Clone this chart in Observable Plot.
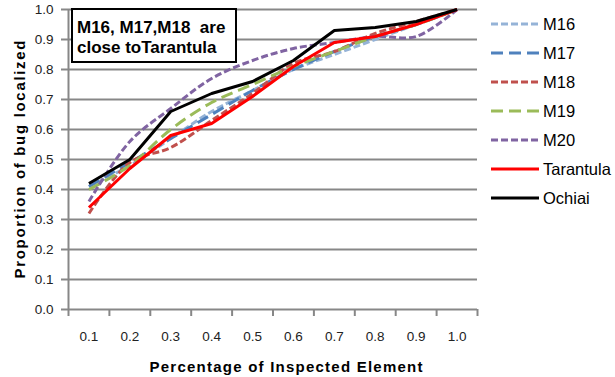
<!DOCTYPE html>
<html>
<head>
<meta charset="utf-8">
<script src="https://cdn.jsdelivr.net/npm/d3@7"></script>
<script src="https://cdn.jsdelivr.net/npm/@observablehq/plot@0.6"></script>
<style>
  body { margin: 0; background: #fff; }
  #wrap { position: relative; width: 615px; height: 377px; font-family: "Liberation Sans", Arial, sans-serif; }
  #note { position: absolute; left: 71px; top: 8px; width: 166px; height: 55px; box-sizing: border-box;
          border: 2px solid #000; background: #fff; font: bold 17px "Liberation Sans", Arial, sans-serif;
          line-height: 20px; padding: 8px 0 0 4px; white-space: pre; color: #000; }
  .lg { position: absolute; left: 491px; height: 20px; display: flex; align-items: center;
        font-size: 16.5px; color: #000; white-space: nowrap; }
  .lg svg { display: block; margin-right: 4px; }
</style>
</head>
<body>
<div id="wrap"></div>
<script>
// ---- data ----
const categories = ["0.1", "0.2", "0.3", "0.4", "0.5", "0.6", "0.7", "0.8", "0.9", "1.0"];
const yTickLabels = ["0.0", "0.1", "0.2", "0.3", "0.4", "0.5", "0.6", "0.7", "0.8", "0.9", "1.0"];
const M16       = [0.41, 0.48, 0.57, 0.66, 0.73, 0.80, 0.85, 0.90, 0.95, 1.00];
const M17       = [0.41, 0.49, 0.57, 0.65, 0.73, 0.80, 0.86, 0.91, 0.95, 1.00];
const M18       = [0.32, 0.49, 0.54, 0.63, 0.72, 0.82, 0.86, 0.92, 0.96, 1.00];
const M19       = [0.40, 0.48, 0.60, 0.69, 0.75, 0.81, 0.86, 0.91, 0.95, 1.00];
const M20       = [0.36, 0.56, 0.67, 0.77, 0.83, 0.87, 0.89, 0.91, 0.91, 1.00];
const Tarantula = [0.34, 0.47, 0.58, 0.62, 0.71, 0.81, 0.89, 0.91, 0.95, 1.00];
const Ochiai    = [0.42, 0.50, 0.66, 0.72, 0.76, 0.83, 0.93, 0.94, 0.96, 1.00];
const seriesNames = ["M16", "M17", "M18", "M19", "M20", "Tarantula", "Ochiai"];
const noteLines = ["M16, M17,M18  are", "close toTarantula"];
const xTitle = "Percentage of Inspected Element";
const yTitle = "Proportion of bug localized";

// ---- styles ----
const seriesValues = [M16, M17, M18, M19, M20, Tarantula, Ochiai];
const seriesStyle = [
  {color: "#95B3D7", dash: "7,3", curve: "catmull-rom"},
  {color: "#4F81BD", dash: "12,6", curve: "catmull-rom"},
  {color: "#C0504D", dash: "7,3", curve: "catmull-rom"},
  {color: "#9BBB59", dash: "12,6", curve: "catmull-rom"},
  {color: "#8064A2", dash: "7,3", curve: "catmull-rom"},
  {color: "#FF0000", dash: null, curve: "linear"},
  {color: "#000000", dash: null, curve: "linear"}
];
const GRID = "#878787";

const xs = categories.map(Number);
const step = xs[1] - xs[0];
const boundaries = [xs[0] - step / 2, ...xs.map(v => v + step / 2)];
const yTicks = yTickLabels.map(Number);

const lineMarks = seriesValues.map((vals, i) =>
  Plot.line(vals, {
    x: (d, j) => xs[j], y: d => d,
    stroke: seriesStyle[i].color, strokeWidth: 3,
    strokeDasharray: seriesStyle[i].dash || undefined,
    strokeLinecap: "butt", strokeLinejoin: "round",
    curve: seriesStyle[i].curve
  })
);

const chart = Plot.plot({
  width: 615, height: 377,
  marginLeft: 68, marginRight: 138, marginTop: 9, marginBottom: 68,
  x: {domain: [boundaries[0], boundaries[boundaries.length - 1]]},
  y: {domain: [0, 1]},
  style: {fontFamily: "'Liberation Sans', Arial, sans-serif", fontSize: "13.5px", color: "#222", background: "#fff"},
  marks: [
    Plot.gridY(yTicks.slice(1), {stroke: GRID, strokeOpacity: 1, strokeWidth: 2}),
    Plot.axisY(yTicks, {tickSize: 7, tickFormat: () => "", stroke: GRID, strokeWidth: 2, label: null}),
    Plot.axisY(yTicks, {tickSize: 0, tickPadding: 15, tickFormat: (d, i) => yTickLabels[i] ?? d3.format(".1f")(d),
      label: yTitle, labelAnchor: "center", labelArrow: "none", labelOffset: 54}),
    Plot.axisX(boundaries, {tickSize: 7, tickFormat: () => "", stroke: GRID, strokeWidth: 2, label: null}),
    Plot.axisX(xs, {tickSize: 0, tickPadding: 22, tickFormat: (d, i) => categories[i],
      label: xTitle, labelAnchor: "center", labelArrow: "none", labelOffset: 62}),
    Plot.ruleX([boundaries[0]], {stroke: GRID, strokeWidth: 2}),
    Plot.ruleY([0], {stroke: GRID, strokeWidth: 2}),
    ...lineMarks
  ]
});

const wrap = document.getElementById("wrap");
wrap.appendChild(chart);

// axis titles: bold, Excel-like spacing
const svg = d3.select(chart);
svg.selectAll('g[aria-label="x-axis label"] text')
  .style("font-weight", "bold").style("font-size", "15px").attr("fill", "#000")
  .attr("textLength", 273).attr("lengthAdjust", "spacing").attr("dx", 13);
svg.selectAll('g[aria-label="y-axis label"] text')
  .style("font-weight", "bold").style("font-size", "15px").attr("fill", "#000")
  .attr("textLength", 238).attr("lengthAdjust", "spacing");

// annotation box
const note = document.createElement("div");
note.id = "note";
note.textContent = noteLines.join("\n");
wrap.appendChild(note);

// legend
seriesNames.forEach((name, i) => {
  const row = document.createElement("div");
  row.className = "lg";
  row.style.top = (14 + 29 * i) + "px";
  const s = seriesStyle[i];
  row.innerHTML = `<svg width="48" height="6"><line x1="0" y1="3" x2="48" y2="3" stroke="${s.color}" stroke-width="3" ${s.dash ? `stroke-dasharray="${s.dash}"` : ""}/></svg><span>${name}</span>`;
  wrap.appendChild(row);
});
</script>
</body>
</html>
